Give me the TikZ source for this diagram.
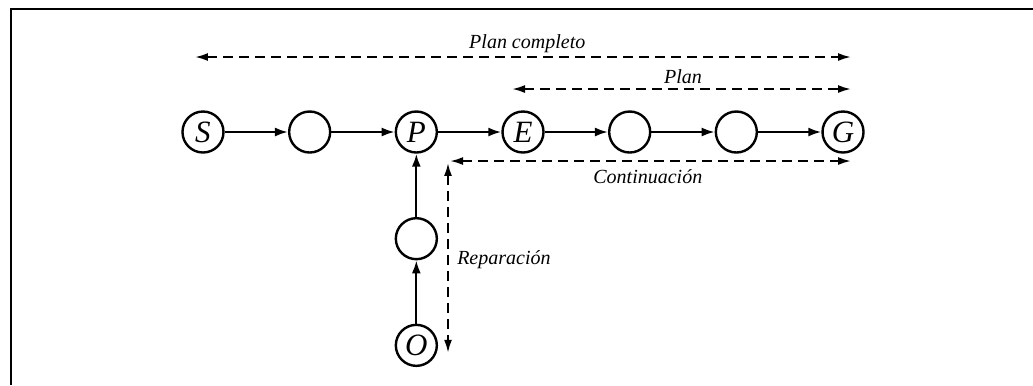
\documentclass[tikz,border=0pt]{standalone}
\usepackage{fontspec}
\setmainfont{Liberation Serif}
\usetikzlibrary{positioning, arrows.meta, calc}

\tikzset{
  state/.style={circle, draw, line width=1.2pt, minimum size=20.5pt, inner sep=0pt,
                font=\fontsize{15.5}{17}\selectfont\itshape},
  link/.style={line width=1.1pt, -{Latex[length=6.5pt, width=4.5pt]}},
  span/.style={line width=1pt, dash pattern=on 5pt off 3pt,
               {Latex[length=6.5pt, width=4pt]}-{Latex[length=6.5pt, width=4pt]}},
  lbl/.style={font=\fontsize{10}{12}\selectfont\itshape}
}

\begin{document}
\begin{tikzpicture}[x=53.33pt, y=53.33pt]
  \useasboundingbox (-1.903,-2.372) rectangle (7.781,1.2375);
  % Frame
  \draw[line width=1.1pt] (-1.8,-2.372) -- (-1.8,1.153) -- (7.781,1.153);
  % Main chain
  \node[state] (S) at (0,0) {S};
  \node[state] (A) at (1,0) {};
  \node[state] (P) at (2,0) {P};
  \node[state] (E) at (3,0) {E};
  \node[state] (B) at (4,0) {};
  \node[state] (C) at (5,0) {};
  \node[state] (G) at (6,0) {G};
  % Repair branch
  \node[state] (R) at (2,-1) {};
  \node[state] (O) at (2,-2) {O};
  \draw[link] (S) -- (A);
  \draw[link] (A) -- (P);
  \draw[link] (P) -- (E);
  \draw[link] (E) -- (B);
  \draw[link] (B) -- (C);
  \draw[link] (C) -- (G);
  \draw[link] (O) -- (R);
  \draw[link] (R) -- (P);
  % Spans
  \coordinate (pcL) at (-0.075,0.703);
  \coordinate (pcR) at (6.075,0.703);
  \coordinate (plL) at (2.897,0.403);
  \coordinate (plR) at (6.075,0.403);
  \coordinate (coL) at (2.316,-0.272);
  \coordinate (coR) at (6.075,-0.272);
  \coordinate (reT) at (2.297,-0.29);
  \coordinate (reB) at (2.297,-2.07);
  \draw[span] (pcL) -- (pcR);
  \draw[span] (plL) -- (plR);
  \draw[span] (coL) -- (coR);
  \draw[span] (reT) -- (reB);
  \node[lbl] (pcT) at (3.04,0.825) {Plan completo};
  \node[lbl] (plT) at (4.50,0.52) {Plan};
  \node[lbl] (coT) at (4.17,-0.42) {Continuación};
  \node[lbl, anchor=west, inner sep=0pt] (reT2) at (2.38,-1.2) {Reparación};
\end{tikzpicture}
\end{document}
